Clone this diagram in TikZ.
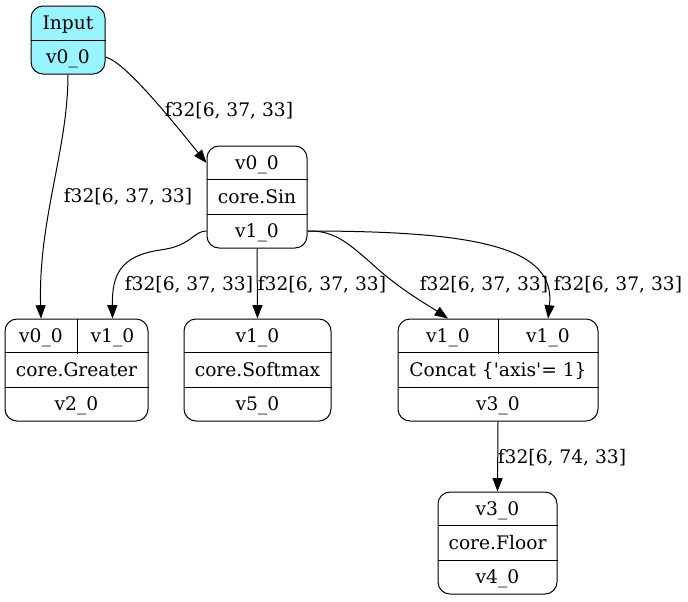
\documentclass[tikz,border=0pt]{standalone}
\usepackage{fontspec}
\setmainfont{DejaVu Serif}
\usetikzlibrary{arrows.meta}
\definecolor{inputcyan}{HTML}{98F5FF}
\tikzset{
	rec/.style={draw, rounded corners=9pt, minimum height=76.5pt, inner sep=0pt},
	cell/.style={inner sep=0pt, minimum height=25.5pt, text height=10pt, text depth=0pt},
	lbl/.style={inner sep=0pt, text height=10pt, text depth=0pt},
	edge/.style={-{Triangle[length=10pt, width=7.5pt]}}
}

\begin{document}
\begin{tikzpicture}[x=0.75pt, y=-0.75pt, line width=0.75pt, font=\fontsize{14pt}{16pt}\selectfont]
	\useasboundingbox (0,0) rectangle (688,601);

	% Input
	\node[rec, fill=inputcyan, minimum width=55.5pt, minimum height=51pt] (inp) at (68,40) {};
	\node[cell, minimum width=55.5pt] (inp-t) at (68,23) {Input};
	\node[cell, minimum width=55.5pt] (inp-v) at (68,57) {v0\_0};
	\draw (inp-t.south west) -- (inp-t.south east);

	% core.Sin
	\node[rec, minimum width=75pt] (sin) at (257,197) {};
	\node[cell, minimum width=75pt] (sin-a) at (257,163) {v0\_0};
	\node[cell, minimum width=75pt] (sin-op) at (257,197) {core.Sin};
	\node[cell, minimum width=75pt] (sin-c) at (257,231) {v1\_0};
	\draw (sin-op.north west) -- (sin-op.north east);
	\draw (sin-op.south west) -- (sin-op.south east);

	% core.Greater
	\node[rec, minimum width=107.25pt] (gt) at (76.5,370) {};
	\node[cell, minimum width=54pt] (gt-a) at (41,336) {v0\_0};
	\node[cell, minimum width=53.25pt] (gt-b) at (112.5,336) {v1\_0};
	\node[cell, minimum width=107.25pt] (gt-op) at (76.5,370) {core.Greater};
	\node[cell, minimum width=107.25pt] (gt-out) at (76.5,404) {v2\_0};
	\draw (gt-a.north east) -- (gt-a.south east);
	\draw (gt-op.north west) -- (gt-op.north east);
	\draw (gt-op.south west) -- (gt-op.south east);

	% core.Softmax
	\node[rec, minimum width=110.25pt] (sm) at (257.5,370) {};
	\node[cell, minimum width=110.25pt] (sm-a) at (257.5,336) {v1\_0};
	\node[cell, minimum width=110.25pt] (sm-op) at (257.5,370) {core.Softmax};
	\node[cell, minimum width=110.25pt] (sm-out) at (257.5,404) {v5\_0};
	\draw (sm-op.north west) -- (sm-op.north east);
	\draw (sm-op.south west) -- (sm-op.south east);

	% Concat
	\node[rec, minimum width=150pt] (cc) at (498,370) {};
	\node[cell, minimum width=75pt] (cc-a) at (448,336) {v1\_0};
	\node[cell, minimum width=75pt] (cc-b) at (548,336) {v1\_0};
	\node[cell, minimum width=150pt] (cc-op) at (498,370) {Concat \{\textquotesingle axis\textquotesingle= 1\}};
	\node[cell, minimum width=150pt] (cc-c) at (498,404) {v3\_0};
	\draw (cc-a.north east) -- (cc-a.south east);
	\draw (cc-op.north west) -- (cc-op.north east);
	\draw (cc-op.south west) -- (cc-op.south east);

	% core.Floor
	\node[rec, minimum width=89.25pt] (fl) at (497.5,543) {};
	\node[cell, minimum width=89.25pt] (fl-a) at (497.5,509) {v3\_0};
	\node[cell, minimum width=89.25pt] (fl-op) at (497.5,543) {core.Floor};
	\node[cell, minimum width=89.25pt] (fl-out) at (497.5,577) {v4\_0};
	\draw (fl-op.north west) -- (fl-op.north east);
	\draw (fl-op.south west) -- (fl-op.south east);

	% edges
	\draw[edge] (inp-v.south) .. controls (68,150) and (38,220) .. (gt-a.north);
	\draw[edge] (inp-v.east) .. controls (125,62) and (170,118) .. (sin-a.west);
	\draw[edge] (sin-c.west) .. controls (193,231) and (192,246) .. (160,250) .. controls (120,256) and (112,275) .. (gt-b.north);
	\draw[edge] (sin-c.south) -- (sm-a.north);
	\draw[edge] (sin-c.east) .. controls (335,230) and (350,245) .. (370,262) .. controls (400,290) and (428,305) .. (cc-a.north);
	\draw[edge] (sin-c.east) .. controls (480,231) and (556,248) .. (cc-b.north);
	\draw[edge] (cc-c.south) -- (fl-a.north);

	% edge labels
	\node[lbl] (l1) at (128,196) {f32[6, 37, 33]};
	\node[lbl] (l2) at (229,110) {f32[6, 37, 33]};
	\node[lbl] (l3) at (189,284) {f32[6, 37, 33]};
	\node[lbl] (l4) at (322,284) {f32[6, 37, 33]};
	\node[lbl] (l5) at (484,284) {f32[6, 37, 33]};
	\node[lbl] (l6) at (618,284) {f32[6, 37, 33]};
	\node[lbl] (l7) at (562,457) {f32[6, 74, 33]};
\end{tikzpicture}
\end{document}
